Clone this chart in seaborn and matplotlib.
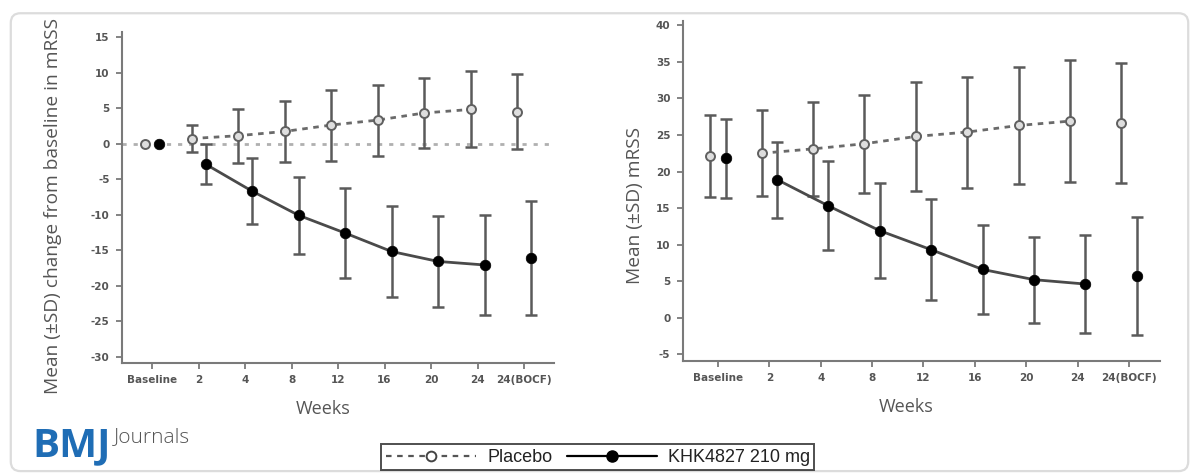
import numpy as np
import pandas as pd
import matplotlib
matplotlib.use("Agg")
import matplotlib.pyplot as plt
from matplotlib.lines import Line2D
from matplotlib.patches import FancyBboxPatch
import seaborn as sns

# -----------------------------
# data
# -----------------------------
weeks = ["Baseline", "2", "4", "8", "12", "16", "20", "24", "24(BOCF)"]
groups = ["Placebo", "KHK4827 210 mg"]

# left panel: change from baseline in mRSS (mean, SD)
chg_placebo_mean = [0.0, 0.7, 1.1, 1.7, 2.6, 3.3, 4.3, 4.8, 4.5]
chg_placebo_sd = [np.nan, 1.85, 3.8, 4.3, 5.0, 5.0, 4.9, 5.35, 5.3]
chg_khk_mean = [0.0, -2.9, -6.7, -10.1, -12.6, -15.2, -16.6, -17.1, -16.1]
chg_khk_sd = [np.nan, 2.8, 4.6, 5.45, 6.3, 6.4, 6.35, 7.1, 8.0]

# right panel: absolute mRSS (mean, SD)
abs_placebo_mean = [22.1, 22.5, 23.1, 23.8, 24.8, 25.4, 26.3, 26.9, 26.6]
abs_placebo_sd = [5.6, 5.9, 6.4, 6.7, 7.4, 7.6, 8.0, 8.3, 8.2]
abs_khk_mean = [21.8, 18.9, 15.3, 11.9, 9.3, 6.6, 5.2, 4.6, 5.7]
abs_khk_sd = [5.4, 5.2, 6.1, 6.5, 6.9, 6.1, 5.9, 6.7, 8.1]

# -----------------------------
# styling
# -----------------------------
sns.set_theme(style="ticks")
plt.rcParams["font.family"] = ["Liberation Sans", "DejaVu Sans"]
plt.rcParams["axes.unicode_minus"] = False

AX_GREY = "#7a7a7a"
TXT_GREY = "#555555"
BAR_GREY = "#5a5a5a"
offsets = {groups[0]: -0.15, groups[1]: 0.15}


def make_df(pm, ps, km, ks):
    rows = []
    for g, m, s in [(groups[0], pm, ps), (groups[1], km, ks)]:
        for i, w in enumerate(weeks):
            rows.append(dict(week=w, group=g, pos=i + offsets[g],
                             mean=m[i], sd=s[i], joined=(1 <= i <= 7)))
    return pd.DataFrame(rows)


def draw(ax, df, ylim, yticks, xlim, ylabel, ylab_xy, weeks_xy):
    # error bars
    for g in groups:
        d = df[(df.group == g) & df.sd.notna()]
        ax.errorbar(d.pos, d["mean"], yerr=d.sd, fmt="none", ecolor=BAR_GREY,
                    elinewidth=1.8, capsize=4, capthick=1.8, zorder=2)
    # connecting lines (week 2 .. 24)
    sns.lineplot(data=df[df.joined], x="pos", y="mean", hue="group", style="group",
                 palette={groups[0]: "#6a6a6a", groups[1]: "#4a4a4a"},
                 dashes={groups[0]: (2, 2), groups[1]: ""},
                 linewidth=2, estimator=None, legend=False, ax=ax, zorder=3)
    # markers
    sns.scatterplot(data=df[df.group == groups[0]], x="pos", y="mean", marker="o",
                    s=42, color="#dedede", edgecolor="#606060", linewidth=1.4,
                    legend=False, ax=ax, zorder=4)
    sns.scatterplot(data=df[df.group == groups[1]], x="pos", y="mean", marker="o",
                    s=58, color="black", edgecolor="black", linewidth=0.5,
                    legend=False, ax=ax, zorder=5)

    ax.set_xlim(*xlim)
    ax.set_ylim(*ylim)
    ax.set_xticks(range(len(weeks)))
    ax.set_xticklabels(weeks)
    ax.set_yticks(yticks)
    ax.tick_params(colors=AX_GREY, length=4, width=1.3, labelcolor=TXT_GREY,
                   labelsize=7.5, pad=5)
    for lab in ax.get_xticklabels() + ax.get_yticklabels():
        lab.set_fontfamily("DejaVu Sans")
        lab.set_fontweight("bold")
    sns.despine(ax=ax)
    for sp in ["left", "bottom"]:
        ax.spines[sp].set_color(AX_GREY)
        ax.spines[sp].set_linewidth(1.5)

    ax.set_ylabel(ylabel, family="Open Sans", fontsize=13.8, color=TXT_GREY)
    ax.yaxis.set_label_coords(*ylab_xy)
    ax.set_xlabel("Weeks", family="Open Sans", fontsize=13, color=TXT_GREY)
    ax.xaxis.set_label_coords(*weeks_xy)


fig = plt.figure(figsize=(11.99, 4.73), dpi=100)
fig.patch.set_facecolor("white")

# rounded outer frame
fig.patches.append(FancyBboxPatch((0.009, 0.004), 0.982, 0.968,
                                  boxstyle="round,pad=0,rounding_size=0.008",
                                  mutation_aspect=1199 / 473,
                                  transform=fig.transFigure, facecolor="none",
                                  edgecolor="#dcdcdc", linewidth=1.6, zorder=0))

ax1 = fig.add_axes([0.1018, 0.2326, 0.3603, 0.6997])
ax2 = fig.add_axes([0.5696, 0.2368, 0.3978, 0.7188])
for ax in (ax1, ax2):
    ax.set_facecolor("none")

df_chg = make_df(chg_placebo_mean, chg_placebo_sd, chg_khk_mean, chg_khk_sd)
df_abs = make_df(abs_placebo_mean, abs_placebo_sd, abs_khk_mean, abs_khk_sd)

ax1.axhline(0, color="#b0b0b0", lw=2, dashes=(1.5, 2.5), zorder=1)
draw(ax1, df_chg, (-30.9, 15.7), range(-30, 16, 5), (-0.645, 8.645),
     "Mean (\u00b1SD) change from baseline in mRSS", (-0.139, 0.473), (0.465, -0.112))
draw(ax2, df_abs, (-5.93, 40.6), range(-5, 41, 5), (-0.68, 8.6),
     "Mean (\u00b1SD) mRSS", (-0.082, 0.456), (0.467, -0.108))

# BMJ Journals mark
fig.text(0.027, 0.035, "BMJ", family="Open Sans", fontweight="bold", fontsize=29,
         color="#1f6db5", ha="left", va="baseline")
fig.text(0.095, 0.065, "Journals", family="Open Sans", fontweight="light", fontsize=15,
         color="#555555", ha="left", va="baseline")

# legend
handles = [
    Line2D([], [], color="#555555", lw=1.6, dashes=(2.5, 2.5), marker="o",
           markersize=7, markerfacecolor="white", markeredgecolor="#444444",
           markeredgewidth=1.4),
    Line2D([], [], color="black", lw=1.6, marker="o", markersize=8,
           markerfacecolor="black", markeredgecolor="black"),
]
leg = fig.legend(handles, groups, loc="center", bbox_to_anchor=(0.4987, 0.033),
                 ncol=2, frameon=True, fancybox=False, handlelength=5.0,
                 handletextpad=0.6, columnspacing=0.8, borderpad=0.25,
                 prop={"family": "Liberation Sans", "size": 13})
leg.get_frame().set_edgecolor("#222222")
leg.get_frame().set_linewidth(1.4)
for t in leg.get_texts():
    t.set_color("#222222")

fig.savefig("out.png", dpi=100, facecolor="white")
